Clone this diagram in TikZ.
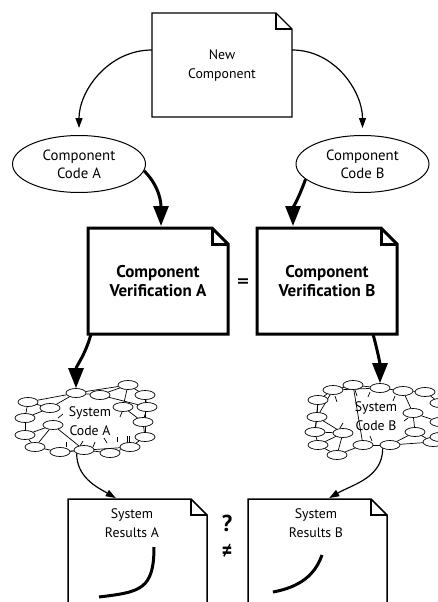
\documentclass[tikz,border=0pt]{standalone}
\usepackage{fontspec}
\usepackage{graphicx}
\setmainfont{PT Sans}
\newfontfamily\symfont{DejaVu Sans}
\usetikzlibrary{arrows.meta,shapes.geometric,backgrounds}
\newcommand\docframe[3]{%
  \draw[line width=#3, line join=miter] (#1.south west) -- (#1.north west) -- ([xshift=-#2]#1.north east) -- ([yshift=-#2]#1.north east) -- (#1.south east) -- cycle;
  \draw[line width=#3, line join=miter] ([xshift=-#2]#1.north east) |- ([yshift=-#2]#1.north east);
}
\tikzset{
  docbox/.style={draw=none, inner sep=0pt, outer sep=0pt, align=center},
  regtxt/.style={font=\fontsize{13.8}{19}\selectfont, align=center},
  boldtxt/.style={font=\bfseries\fontsize{17}{19.5}\selectfont, align=center},
  codeell/.style={ellipse, draw, line width=1pt, inner sep=0pt, minimum width=133pt, minimum height=57pt, align=center, font=\fontsize{14.8}{18}\selectfont},
  netel/.style={ellipse, draw, fill=white, line width=0.7pt, inner sep=0pt, minimum width=20pt, minimum height=9pt},
  netln/.style={line width=0.7pt},
  thinarr/.style={line width=1.2pt, -{Triangle[length=10pt,width=7pt]}},
  thickarr/.style={line width=3pt, -{Triangle[length=20pt,width=15pt]}},
}
\begin{document}
\begin{tikzpicture}[x=1pt,y=1pt]
\useasboundingbox (0,0) rectangle (438,-602);
\clip (0,0) rectangle (438,-602);

% documents
\node[docbox, regtxt, minimum width=140pt, minimum height=104pt] (nc) at (222,-65) {New\\Component};
\docframe{nc}{16pt}{1.3pt}
\node[docbox, boldtxt, minimum width=140pt, minimum height=106pt] (va) at (158,-281) {Component\\Verification A};
\docframe{va}{16pt}{3pt}
\node[docbox, boldtxt, minimum width=140pt, minimum height=106pt] (vb) at (327,-281) {Component\\Verification B};
\docframe{vb}{16pt}{3pt}
\node[docbox, minimum width=139pt, minimum height=160pt] (ra) at (137.5,-579) {};
\docframe{ra}{16pt}{1.5pt}
\node[regtxt] (rat) at (132,-523) {System\\Results A};
\node[docbox, minimum width=139pt, minimum height=160pt] (rb) at (317.5,-579) {};
\docframe{rb}{16pt}{1.5pt}
\node[regtxt] (rbt) at (316,-523) {System\\Results B};

% ellipses
\node[codeell] (ca) at (79,-164) {Component\\Code A};
\node[codeell] (cb) at (362.5,-164) {Component\\Code B};

% symbols
\node[font=\symfont\bfseries\fontsize{16}{16}\selectfont] (eq) at (243,-283) {=};
\node[font=\bfseries\fontsize{23}{23}\selectfont] (qm) at (227,-523) {?};
\node[font=\symfont\bfseries\fontsize{16}{16}\selectfont] (ne) at (227,-551) {\scalebox{0.85}[1.35]{≠}};

% network A
\foreach \n/\x/\y in {a1/76/393, a2/100/395, a3/128/385, a4/145/395, a5/147/407, a6/123/407, a7/143/422, a8/145/437, a9/130/447, a10/110/453, a11/84/450, a12/60/452, a13/35/447, a14/25/435, a15/25/418, a16/28/402, a17/50/408, a18/53/425}
  \node[netel] (\n) at (\x,-\y) {};
\begin{pgfonlayer}{background}
\foreach \p/\q in {a16/a1, a1/a2, a2/a3, a3/a4, a4/a5, a5/a7, a7/a8, a8/a9, a9/a10, a10/a11, a11/a12, a12/a13, a13/a14, a14/a15, a15/a16, a17/a1, a17/a15, a18/a13, a18/a14, a6/a3, a6/a7, a2/a5, a4/a8, a12/a9, a18/a11, a16/a17, a1/a3}
  \draw[netln] (\p) -- (\q);
\draw[netln] (58,-418) -- (63,-414);
\draw[netln] (66,-447) -- (66,-442);
\draw[netln] (80,-446) -- (83,-441);
\draw[netln] (93,-447) -- (95,-442);
\draw[netln] (107,-443) -- (104,-438);
\draw[netln] (117,-442) -- (117,-437);
\draw[netln] (127,-443) -- (127,-436);
\draw[netln] (129,-443) -- (129,-436);
\draw[netln] (122,-412) -- (120,-417);
\end{pgfonlayer}
\node[regtxt] (sa) at (90,-421) {System\\Code A};

% network B
\foreach \n/\x/\y in {b1/353/385, b2/380/388, b3/333/390, b4/403/391, b5/425/392, b6/318/400, b7/440/403, b8/317/417, b9/413/413, b10/440/422, b11/315/432, b12/343/433, b13/415/432, b14/433/442, b15/318/445, b16/337/455, b17/363/445, b18/390/445, b19/440/437}
  \node[netel] (\n) at (\x,-\y) {};
\begin{pgfonlayer}{background}
\foreach \p/\q in {b6/b3, b3/b1, b1/b2, b2/b4, b4/b5, b5/b7, b6/b8, b8/b11, b11/b15, b15/b16, b16/b17, b17/b18, b18/b14, b14/b19, b3/b2, b8/b12, b12/b16, b11/b12, b9/b4, b9/b13, b13/b18, b10/b9, b13/b14, b6/b11, b3/b8, b1/b17, b7/b10, b10/b19, b15/b12}
  \draw[netln] (\p) -- (\q);
\draw[netln] (335,-396) -- (337,-402);
\draw[netln] (355,-390) -- (357,-396);
\draw[netln] (370,-392) -- (368,-397);
\draw[netln] (395,-396) -- (393,-401);
\draw[netln] (408,-418) -- (404,-421);
\draw[netln] (340,-428) -- (343,-423);
\draw[netln] (372,-441) -- (370,-436);
\end{pgfonlayer}
\node[regtxt] (sb) at (376,-416) {System\\Code B};

% connectors
\draw[thinarr, shorten >=7pt] ([yshift=15pt]nc.west) to[out=180, in=90] (ca.north);
\draw[thinarr, shorten >=7pt] ([yshift=15pt]nc.east) to[out=0, in=90] (cb.north);
\draw[thickarr, shorten >=2pt] (ca.-6) to[out=-45, in=90] ([xshift=3pt]va.north);
\draw[thickarr, shorten >=2pt] (cb.195) to[out=-110, in=90] ([xshift=-34pt]vb.north);
\draw[thickarr] ([xshift=3pt]va.south west) to[out=-105, in=90] (a1.north);
\draw[thickarr] ([xshift=-24pt]vb.south east) to[out=-75, in=90] (b2.north);
\draw[thinarr, shorten >=2pt] (a11.south west) to[out=-90, in=150] ([xshift=-20pt]ra.north);
\draw[thinarr, shorten >=2pt] (b18.south west) to[out=-90, in=30] ([xshift=10pt]rb.north);

% result curves
\draw[line width=3pt] (99,-597) .. controls (140,-592) and (154,-590) .. (154,-547);
\draw[line width=3pt] (273,-592) .. controls (300,-587) and (315,-575) .. (322,-555);
\end{tikzpicture}
\end{document}
